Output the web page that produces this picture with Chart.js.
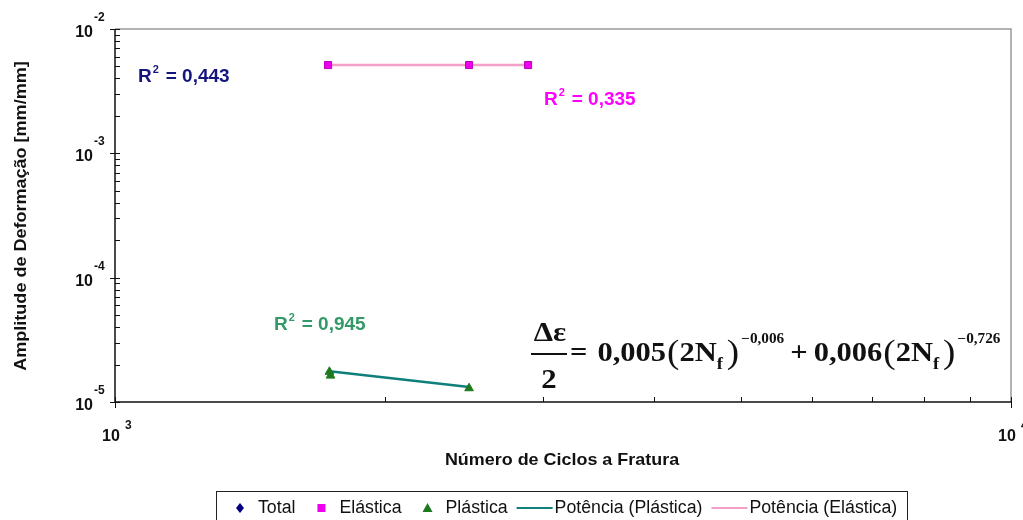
<!DOCTYPE html>
<html>
<head>
<meta charset="utf-8">
<script src="https://cdn.jsdelivr.net/npm/chart.js@4.4.1/dist/chart.umd.min.js"></script>
<style>
  body { margin: 0; background: #fff; }
  #wrap { width: 1023px; height: 520px; }
</style>
</head>
<body>
<div id="wrap"><canvas id="myChart" width="1023" height="520"></canvas></div>
<script>
var elasticaCiclos = [1729, 2484, 2891];
var elasticaAmp = [0.00513, 0.00513, 0.00513];
var plasticaCiclos = [1735, 1740, 2484];
var plasticaAmp = [1.75e-5, 1.63e-5, 1.29e-5];
var totalCiclos = [];
var totalAmp = [];
// linhas de tendência (potência)
var tendPlasticaCiclos = [1735, 2484];
var tendPlasticaAmp = [1.77e-5, 1.32e-5];
var tendElasticaCiclos = [1729, 2891];
var tendElasticaAmp = [0.00513, 0.00513];

var xDecadas = [3, 4];
var yDecadas = [-5, -4, -3, -2];
var r2Textos = ['0,443', '0,335', '0,945'];

function pontos(xs, ys) {
    return xs.map(function (x, i) { return { x: x, y: ys[i] }; });
}

// escreve texto esticado na horizontal e devolve a largura ocupada
function texto(ctx, s, x, y, sx) {
    ctx.save();
    ctx.translate(x, y);
    ctx.scale(sx, 1);
    ctx.fillText(s, 0, 0);
    ctx.restore();
    return ctx.measureText(s).width * sx;
}

var eixosPlugin = {
    id: 'eixos',
    beforeDatasetsDraw: function (chart) {
        var ctx = chart.ctx;
        var a = chart.chartArea;
        var xs = chart.scales.x, ys = chart.scales.y;
        ctx.save();
        // moldura superior e direita
        ctx.strokeStyle = '#9a9a9a';
        ctx.lineWidth = 1.5;
        ctx.beginPath();
        ctx.moveTo(a.left, a.top); ctx.lineTo(a.right, a.top); ctx.lineTo(a.right, a.bottom);
        ctx.stroke();
        // eixos
        ctx.strokeStyle = '#111';
        ctx.lineWidth = 1.5;
        ctx.beginPath();
        ctx.moveTo(a.left, a.top); ctx.lineTo(a.left, a.bottom); ctx.lineTo(a.right, a.bottom);
        ctx.stroke();
        ctx.lineWidth = 1;
        ctx.beginPath();
        yDecadas.forEach(function (e, k) {
            for (var m = 1; m <= 9; m++) {
                if (k === yDecadas.length - 1 && m > 1) break;
                var py = Math.round(ys.getPixelForValue(m * Math.pow(10, e))) + 0.5;
                ctx.moveTo(m === 1 ? a.left - 5 : a.left, py);
                ctx.lineTo(a.left + 5, py);
            }
        });
        xDecadas.forEach(function (e, k) {
            for (var m = 1; m <= 9; m++) {
                if (k === xDecadas.length - 1 && m > 1) break;
                var px = Math.round(xs.getPixelForValue(m * Math.pow(10, e))) + 0.5;
                if (m === 1) { ctx.moveTo(px, a.bottom - 5); ctx.lineTo(px, a.bottom + 6); }
                else { ctx.moveTo(px, a.bottom - 5); ctx.lineTo(px, a.bottom); }
            }
        });
        ctx.stroke();
        ctx.restore();
    },
    afterDraw: function (chart) {
        var ctx = chart.ctx;
        var a = chart.chartArea;
        var xs = chart.scales.x, ys = chart.scales.y;
        ctx.save();
        ctx.fillStyle = '#111';
        ctx.textBaseline = 'alphabetic';
        // rótulos das décadas
        yDecadas.forEach(function (e) {
            var py = ys.getPixelForValue(Math.pow(10, e));
            ctx.font = 'bold 16px "Liberation Sans", Arial';
            ctx.textAlign = 'right';
            ctx.fillText('10', a.left - 22, py + 8);
            ctx.font = 'bold 12px "Liberation Sans", Arial';
            ctx.textAlign = 'left';
            ctx.fillText('-' + (-e), a.left - 21, py - 8);
        });
        xDecadas.forEach(function (e) {
            var px = xs.getPixelForValue(Math.pow(10, e));
            ctx.font = 'bold 16px "Liberation Sans", Arial';
            ctx.textAlign = 'center';
            ctx.fillText('10', px - 4, a.bottom + 39);
            ctx.font = 'bold 12px "Liberation Sans", Arial';
            ctx.textAlign = 'left';
            ctx.fillText(String(e), px + 10, a.bottom + 27);
        });
        // títulos dos eixos
        ctx.font = 'bold 17px "Liberation Sans", Arial';
        ctx.textAlign = 'center';
        texto(ctx, 'Número de Ciclos a Fratura', 562, 465, 1.055);
        ctx.translate(26, 216);
        ctx.rotate(-Math.PI / 2);
        texto(ctx, 'Amplitude de Deformação [mm/mm]', 0, 0, 1.06);
        ctx.restore();

        // coeficientes R²
        function r2(txt, x, y, cor) {
            ctx.save();
            ctx.fillStyle = cor;
            ctx.textAlign = 'left';
            ctx.font = 'bold 19px "Liberation Sans", Arial';
            ctx.fillText('R', x, y);
            var w = ctx.measureText('R').width;
            ctx.font = 'bold 11px "Liberation Sans", Arial';
            ctx.fillText('2', x + w + 1, y - 9);
            ctx.font = 'bold 19px "Liberation Sans", Arial';
            ctx.fillText('= ' + txt, x + w + 14, y);
            ctx.restore();
        }
        r2(r2Textos[0], 138, 82, '#15157f');
        r2(r2Textos[1], 544, 105, '#ff00ff');
        r2(r2Textos[2], 274, 330, '#339966');

        // equação de Coffin-Manson/Basquin
        ctx.save();
        ctx.fillStyle = '#111';
        ctx.textAlign = 'center';
        ctx.font = 'bold 28px "Liberation Serif", "Times New Roman", serif';
        texto(ctx, 'Δε', 550, 341, 1.1);
        texto(ctx, '2', 549, 388, 1.1);
        ctx.fillRect(531, 353, 36, 2);
        ctx.textAlign = 'left';
        var fontes = {
            main: 'bold 28px "Liberation Serif", serif',
            paren: '34px "Liberation Serif", serif',
            sub: 'bold 17px "Liberation Serif", serif',
            sup: 'bold 14px "Liberation Serif", serif'
        };
        var partes = [
            ['=', 'main', 0, 10], ['0,005', 'main', 0, 1], ['(', 'paren', 2, 0], ['2N', 'main', 0, 0],
            ['f', 'sub', 8, 4], [')', 'paren', 2, 2], ['\u22120,006', 'sup', -18, 6],
            ['+', 'main', 0, 6], ['0,006', 'main', 0, 1], ['(', 'paren', 2, 0], ['2N', 'main', 0, 0],
            ['f', 'sub', 8, 4], [')', 'paren', 2, 2], ['\u22120,726', 'sup', -18, 0]
        ];
        var x = 570;
        partes.forEach(function (p) {
            ctx.font = fontes[p[1]];
            x += texto(ctx, p[0], x, 361 + p[2], 1.09) + p[3];
        });
        ctx.restore();

        // legenda
        ctx.save();
        ctx.strokeStyle = '#222';
        ctx.lineWidth = 1;
        ctx.strokeRect(216.5, 491.5, 691, 40);
        ctx.font = '18px "Liberation Sans", Arial';
        ctx.textBaseline = 'middle';
        ctx.textAlign = 'left';
        var ly = 508;
        var lx = 232;
        chart.data.datasets.forEach(function (ds) {
            if (ds.showLine) {
                lx += 9;
                ctx.strokeStyle = ds.borderColor;
                ctx.lineWidth = 2;
                ctx.beginPath(); ctx.moveTo(lx, ly); ctx.lineTo(lx + 36, ly); ctx.stroke();
                ctx.fillStyle = '#111';
                lx += 38 + texto(ctx, ds.label, lx + 38, ly, 0.985);
            } else {
                if (lx > 232) lx += 18;
                var cx = lx + 8;
                ctx.fillStyle = ds.backgroundColor;
                ctx.beginPath();
                if (ds.pointStyle === 'rectRot') {
                    ctx.moveTo(cx, ly - 5); ctx.lineTo(cx + 4, ly); ctx.lineTo(cx, ly + 5); ctx.lineTo(cx - 4, ly);
                } else if (ds.pointStyle === 'rect') {
                    ctx.rect(cx - 4, ly - 4, 8, 8);
                } else {
                    ctx.moveTo(cx, ly - 5); ctx.lineTo(cx + 5, ly + 4); ctx.lineTo(cx - 5, ly + 4);
                }
                ctx.fill();
                ctx.fillStyle = '#111';
                lx += 26 + texto(ctx, ds.label, lx + 26, ly, 0.985);
            }
        });
        ctx.restore();
    }
};

var ctx = document.getElementById('myChart').getContext('2d');
var myChart = new Chart(ctx, {
    type: 'scatter',
    data: {
        datasets: [{
            label: 'Total',
            data: pontos(totalCiclos, totalAmp),
            pointStyle: 'rectRot',
            backgroundColor: '#000080',
            borderColor: '#000080',
            pointRadius: 5,
            order: 1
        }, {
            label: 'Elástica',
            data: pontos(elasticaCiclos, elasticaAmp),
            pointStyle: 'rect',
            backgroundColor: '#ee00ee',
            borderColor: '#bb00bb',
            pointRadius: 5,
            order: 1
        }, {
            label: 'Plástica',
            data: pontos(plasticaCiclos, plasticaAmp),
            pointStyle: 'triangle',
            backgroundColor: '#1f7a1f',
            borderColor: '#1f7a1f',
            pointRadius: 5,
            order: 1
        }, {
            label: 'Potência (Plástica)',
            data: pontos(tendPlasticaCiclos, tendPlasticaAmp),
            showLine: true,
            borderColor: '#0e7f7a',
            borderWidth: 2.5,
            pointRadius: 0,
            order: 2
        }, {
            label: 'Potência (Elástica)',
            data: pontos(tendElasticaCiclos, tendElasticaAmp),
            showLine: true,
            borderColor: '#f2a0c8',
            borderWidth: 2.5,
            pointRadius: 0,
            order: 2
        }]
    },
    options: {
        responsive: false,
        animation: false,
        layout: { padding: { left: 115, top: 29, right: 12, bottom: 118 } },
        plugins: { legend: { display: false }, tooltip: { enabled: false } },
        scales: {
            x: { type: 'logarithmic', min: 1000, max: 10000, display: false },
            y: { type: 'logarithmic', min: 1e-5, max: 1e-2, display: false }
        }
    },
    plugins: [eixosPlugin]
});
</script>
</body>
</html>
